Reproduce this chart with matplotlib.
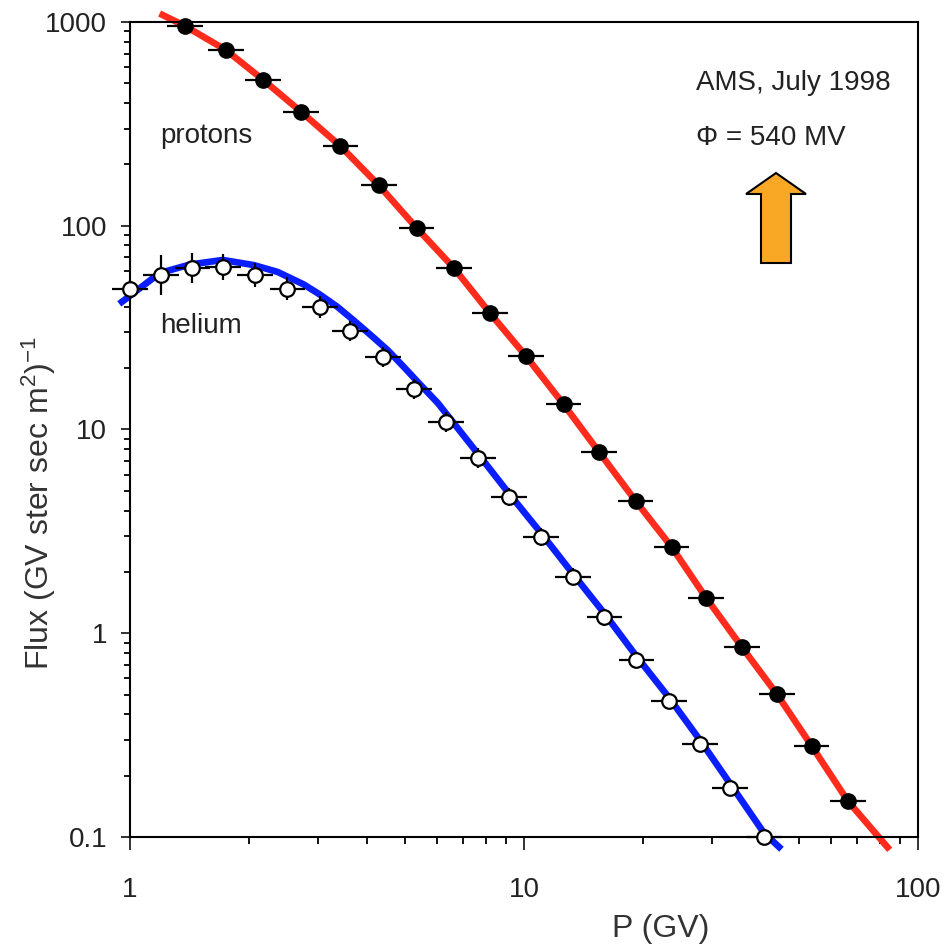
import matplotlib
matplotlib.use('Agg')
import matplotlib.pyplot as plt
from matplotlib.patches import FancyArrow
import numpy as np

plt.rcParams['font.family'] = ['Liberation Sans', 'DejaVu Sans']
plt.rcParams['mathtext.default'] = 'regular'

# AMS proton data (rigidity GV, flux)
p_rig = [1.38, 1.75, 2.18, 2.72, 3.42, 4.28, 5.34, 6.64, 8.19, 10.1, 12.6, 15.5,
         19.2, 23.7, 29.0, 35.7, 43.8, 53.7, 66.4]
p_flux = [955, 729, 519, 362, 246, 158, 97.5, 62, 37.3, 23.0, 13.3, 7.76,
          4.46, 2.65, 1.49, 0.857, 0.504, 0.280, 0.150]

# AMS helium data
he_rig = [1.00, 1.20, 1.44, 1.72, 2.08, 2.51, 3.03, 3.61, 4.38, 5.25, 6.33, 7.64,
          9.16, 11.05, 13.3, 16.0, 19.3, 23.3, 28.0, 33.4, 40.6]
he_flux = [49.0, 57.3, 62.0, 62.8, 57.3, 49.0, 39.9, 30.4, 22.7, 15.8, 10.9, 7.25,
           4.66, 2.97, 1.89, 1.20, 0.739, 0.465, 0.286, 0.174, 0.100]
he_relerr = [0.10, 0.25, 0.18, 0.16, 0.15, 0.14, 0.13, 0.12, 0.12, 0.12, 0.12, 0.12,
             0.11, 0.11, 0.10, 0.10, 0.10, 0.10, 0.10, 0.10, 0.10]

# half bin width (multiplicative)
bin_frac = 1.11

# model curves (phi = 540 MV)
p_fit_rig = [1.21, 1.38, 1.75, 2.18, 2.72, 3.42, 4.28, 5.34, 6.64, 8.19, 10.1, 12.6,
             15.5, 19.2, 23.7, 29.0, 35.7, 43.8, 53.7, 66.4, 83.7]
p_fit_flux = [1082, 955, 729, 519, 362, 246, 158, 97.5, 62, 37.3, 23.0, 13.3,
              7.76, 4.46, 2.65, 1.49, 0.857, 0.504, 0.280, 0.150, 0.089]
he_fit_rig = [0.954, 1.19, 1.42, 1.72, 2.06, 2.37, 2.76, 3.03, 3.36, 3.69, 4.08,
              4.51, 4.95, 5.47, 6.04, 7.64, 9.16, 11.05, 13.3, 16.0, 19.3, 23.3,
              28.0, 33.4, 40.6, 44.4]
he_fit_flux = [42.3, 58.6, 64.5, 67.9, 64.1, 59.3, 51.5, 46.0, 40.0, 34.4, 29.1,
               24.5, 20.3, 16.5, 13.5, 7.6, 4.85, 3.10, 1.96, 1.25, 0.77, 0.485,
               0.298, 0.182, 0.105, 0.0893]

fig = plt.figure(figsize=(9.42, 9.51), dpi=100)
ax = fig.add_axes([0.138, 0.1199, 0.8365, 0.857])
ax.set_xscale('log')
ax.set_yscale('log')

ax.plot(p_fit_rig, p_fit_flux, color='#ff2b1c', lw=4.8, clip_on=False, zorder=2,
        solid_joinstyle='round')
ax.plot(he_fit_rig, he_fit_flux, color='#0a1eff', lw=4.8, clip_on=False, zorder=2,
        solid_joinstyle='round')

pr = np.array(p_rig)
pf = np.array(p_flux)
ax.errorbar(pr, pf, xerr=[pr - pr / bin_frac, pr * bin_frac - pr], fmt='o',
            color='black', ms=11, mfc='black', mec='black', elinewidth=1.6,
            capsize=0, clip_on=False, zorder=3)

hr = np.array(he_rig)
hf = np.array(he_flux)
he_e = np.array(he_relerr)
ax.errorbar(hr, hf, xerr=[hr - hr / bin_frac, hr * bin_frac - hr],
            yerr=[hf - hf / (1 + he_e), hf * he_e], fmt='o', color='black',
            ms=10.5, mfc='white', mec='black', mew=1.6, elinewidth=1.6,
            capsize=0, clip_on=False, zorder=3)

ax.set_xlim(1, 100)
ax.set_ylim(0.1, 1000)
ax.set_xticks([1, 10, 100], ['1', '10', '100'])
ax.set_yticks([0.1, 1, 10, 100, 1000], ['0.1', '1', '10', '100', '1000'])

for s in ax.spines.values():
    s.set_linewidth(1.5)
ax.tick_params(axis='x', which='major', direction='out', length=9.5, width=1.3,
               labelsize=20, pad=19, colors='#222222')
ax.tick_params(axis='x', which='minor', direction='out', length=5, width=1.3)
ax.tick_params(axis='y', which='major', direction='out', length=6.5, width=1.3,
               labelsize=20, pad=10, colors='#222222')
ax.tick_params(axis='y', which='minor', direction='out', length=4.3, width=1.3)

ax.set_xlabel('P (GV)', fontsize=23, color='#333333')
ax.xaxis.set_label_coords(0.674, -0.094)
ax.set_ylabel('Flux (GV ster sec m$^2$)$^{-1}$', fontsize=23, color='#333333')
ax.yaxis.set_label_coords(-0.091, 0.41)

ax.text(0.038, 0.8515, 'protons', transform=ax.transAxes, fontsize=20,
        color='#222222', va='baseline')
ax.text(0.038, 0.618, 'helium', transform=ax.transAxes, fontsize=20,
        color='#222222', va='baseline')
ax.text(0.718, 0.9166, 'AMS, July 1998', transform=ax.transAxes, fontsize=20,
        color='#222222', va='baseline')
ax.text(0.718, 0.849, '\u03a6 = 540 MV', transform=ax.transAxes, fontsize=20,
        color='#222222', va='baseline')

arrow = FancyArrow(7.76, 9.51 - 2.63, 0, 0.90, width=0.30, head_width=0.60,
                   head_length=0.21, length_includes_head=True, fc='#f9a825',
                   ec='black', lw=1.5, transform=fig.dpi_scale_trans)
fig.add_artist(arrow)

fig.savefig('out.png', dpi=100)
